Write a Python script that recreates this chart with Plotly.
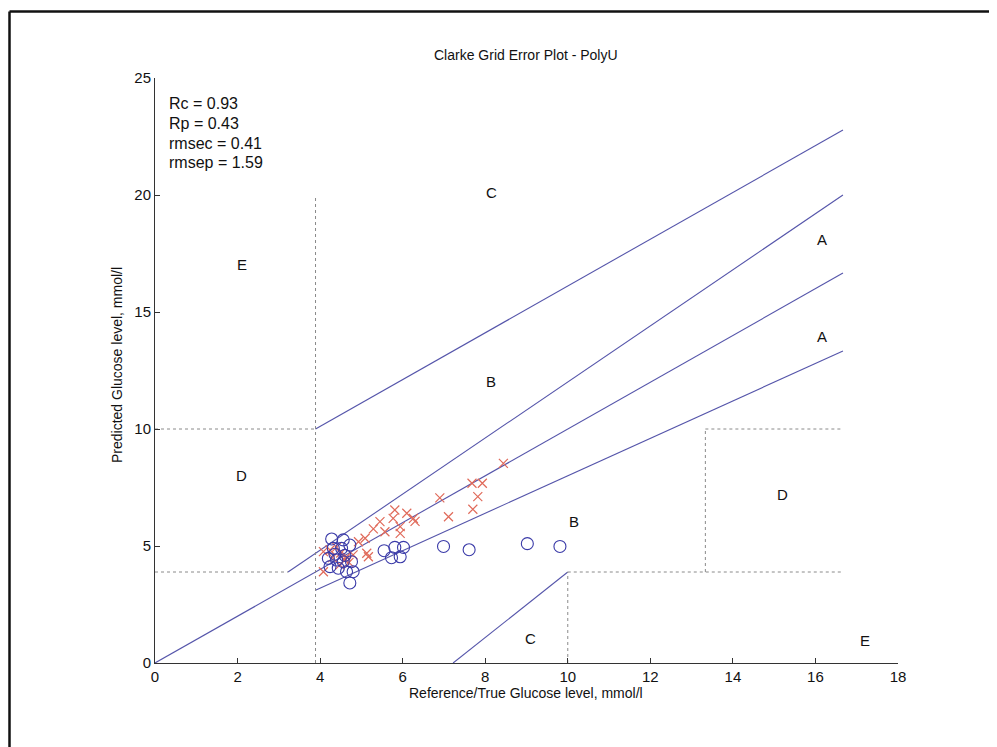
import plotly.graph_objects as go

# ---- data ----
blue_x = [9.81, 9.02, 7.61, 6.99, 6.02, 5.81, 5.55, 5.73, 5.94, 4.28, 4.56, 4.72, 4.32,
          4.52, 4.20, 4.40, 4.56, 4.76, 4.24, 4.44, 4.64, 4.80, 4.72, 4.36, 4.60]
blue_y = [4.98, 5.10, 4.84, 4.98, 4.94, 4.94, 4.80, 4.50, 4.54, 5.30, 5.26, 5.04, 4.90,
          4.90, 4.47, 4.40, 4.33, 4.33, 4.12, 4.05, 3.90, 3.90, 3.42, 4.65, 4.60]
red_x = [8.44, 7.68, 7.93, 7.82, 7.70, 6.90, 7.11, 6.26, 6.30, 6.10, 5.81, 5.77, 5.45, 5.29,
         5.57, 5.94, 5.94, 5.09, 5.13, 4.93, 4.08, 4.24, 4.64, 4.80, 5.17, 4.08, 4.48, 4.60,
         4.40, 4.70, 4.30, 4.50]
red_y = [8.53, 7.68, 7.68, 7.11, 6.57, 7.06, 6.25, 6.18, 6.05, 6.40, 6.54, 6.18, 6.04, 5.73,
         5.61, 5.83, 5.54, 5.33, 4.69, 5.18, 4.76, 4.83, 4.54, 4.62, 4.54, 3.90, 4.19, 4.40,
         4.95, 4.30, 4.50, 4.70]

# Clarke grid boundaries (mmol/l)
solid_segments = [
    ([0, 300/18], [0, 300/18]),
    ([58/18, 300/18], [70/18, 20.0]),
    ([70/18, 300/18], [56/18, 240/18]),
    ([70/18, 300/18], [180/18, 410/18]),
    ([130/18, 180/18], [0, 70/18]),
]
dotted_segments = [
    ([0, 58/18], [70/18, 70/18]),
    ([70/18, 70/18], [0, 20]),
    ([0, 70/18], [10, 10]),
    ([10, 10], [0, 70/18]),
    ([10, 300/18], [70/18, 70/18]),
    ([240/18, 240/18], [70/18, 10]),
    ([240/18, 300/18], [10, 10]),
]
zone_labels = ["C", "E", "A", "A", "B", "D", "B", "D", "C", "E"]
zone_x = [8.14, 2.10, 16.16, 16.16, 8.14, 2.10, 10.15, 15.19, 9.10, 17.20]
zone_y = [20.1, 17.05, 18.08, 13.97, 12.05, 8.0, 6.03, 7.18, 1.03, 0.98]
stats_text = ["Rc = 0.93", "Rp = 0.43", "rmsec = 0.41", "rmsep = 1.59"]
stats_y = [23.9, 23.07, 22.22, 21.4]

FONT = "Liberation Sans, Arial, sans-serif"
LINE_C = "#5555aa"
DOT_C = "#8a8a8a"

# plot area in page pixels: x 155..898, y 78..663 (page has an 8px body margin)
L, T, PW, PH = 147, 70, 743, 585
X0, Y0 = 155, 663


def px(xp):
    return (xp - X0) / PW


def py(yp):
    return (Y0 - yp) / PH


fig = go.Figure()
for xs, ys in solid_segments:
    fig.add_trace(go.Scatter(x=xs, y=ys, mode="lines", line=dict(color=LINE_C, width=1.1),
                             hoverinfo="skip", showlegend=False))
for xs, ys in dotted_segments:
    fig.add_trace(go.Scatter(x=xs, y=ys, mode="lines", line=dict(color=DOT_C, width=1, dash="dot"),
                             hoverinfo="skip", showlegend=False))

fig.add_trace(go.Scatter(x=red_x, y=red_y, mode="markers", showlegend=False,
                         marker=dict(symbol="x-thin", size=9, line=dict(color="#e06a5a", width=1.2))))
fig.add_trace(go.Scatter(x=blue_x, y=blue_y, mode="markers", showlegend=False,
                         marker=dict(symbol="circle-open", size=12, color="#3a3aa8",
                                     line=dict(color="#3a3aa8", width=1.1))))

for t, x, y in zip(zone_labels, zone_x, zone_y):
    fig.add_annotation(x=x, y=y, text=t, showarrow=False, xanchor="center", yanchor="middle",
                       font=dict(family=FONT, size=15, color="#111"))
for t, y in zip(stats_text, stats_y):
    fig.add_annotation(x=0.3, y=y, text=t, showarrow=False, xanchor="left", yanchor="middle",
                       font=dict(family=FONT, size=16, color="#111"))

# title and axis titles
fig.add_annotation(xref="paper", yref="paper", x=px(526), y=py(55), text="Clarke Grid Error Plot - PolyU",
                   showarrow=False, xanchor="center", yanchor="middle",
                   font=dict(family=FONT, size=14, color="#111"))
fig.add_annotation(xref="paper", yref="paper", x=px(526), y=py(693),
                   text="Reference/True Glucose level, mmol/l", xanchor="center", yanchor="middle",
                   showarrow=False, font=dict(family=FONT, size=14, color="#111"))
fig.add_annotation(xref="paper", yref="paper", x=px(117), y=py(365), textangle=-90,
                   text="Predicted Glucose level, mmol/l", xanchor="center", yanchor="middle",
                   showarrow=False, font=dict(family=FONT, size=14, color="#111"))

# figure border (top and left visible)
fig.add_shape(type="line", xref="paper", yref="paper", x0=px(9.5), x1=px(1010),
              y0=py(11.5), y1=py(11.5), line=dict(color="#111", width=2.5))
fig.add_shape(type="line", xref="paper", yref="paper", x0=px(9.5), x1=px(9.5),
              y0=py(11.5), y1=py(760), line=dict(color="#111", width=2.5))

axis_common = dict(showgrid=False, zeroline=False, showline=True, linecolor="#333", linewidth=1,
                   ticks="inside", ticklen=5, tickcolor="#333",
                   tickfont=dict(family=FONT, size=15, color="#111"))
fig.update_xaxes(range=[0, 18], tickvals=list(range(0, 19, 2)), **axis_common)
fig.update_yaxes(range=[0, 25], tickvals=list(range(0, 26, 5)), **axis_common)

fig.update_layout(width=997, height=747,
                  margin=dict(l=L, r=997 - L - PW, t=T, b=747 - T - PH),
                  paper_bgcolor="white", plot_bgcolor="white")
fig.write_html("out.html")
